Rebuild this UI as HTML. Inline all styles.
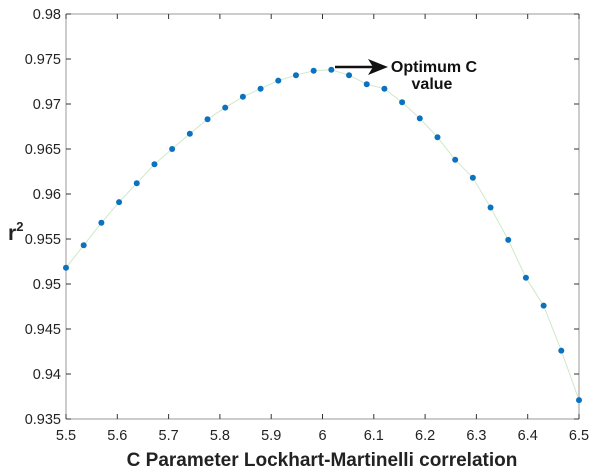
<!DOCTYPE html>
<html><head><style>body{margin:0;background:#fff}svg{display:block}</style></head>
<body>
<svg id="s" width="600" height="474" xmlns="http://www.w3.org/2000/svg" font-family="Liberation Sans, sans-serif">
<rect x="0" y="0" width="600" height="474" fill="#fff"/>
<g id="ax" stroke="#999" stroke-width="1" fill="none"></g>
<path id="ln" fill="none" stroke="#cfe8c8" stroke-width="1"/>
<g id="pts" fill="#0a72bf"></g>
<line x1="335" y1="67" x2="376" y2="67" stroke="#111" stroke-width="2.5"/>
<polygon points="388,67 368,59 373,67 368,75" fill="#111"/>
<text x="434" y="72" font-size="16" font-weight="bold" text-anchor="middle" fill="#111">Optimum C</text>
<text x="432" y="89" font-size="16" font-weight="bold" text-anchor="middle" fill="#111">value</text>
<text x="8" y="240" font-size="21" font-weight="bold" fill="#222">r<tspan font-size="13" dy="-9">2</tspan></text>
<text x="322" y="466" font-size="19" font-weight="bold" text-anchor="middle" fill="#222">C Parameter Lockhart-Martinelli correlation</text>
<g font-size="14.5" fill="#222" text-anchor="end">
<text x="61" y="19">0.98</text><text x="61" y="64">0.975</text><text x="61" y="109">0.97</text><text x="61" y="154">0.965</text><text x="61" y="199">0.96</text><text x="61" y="244">0.955</text><text x="61" y="289">0.95</text><text x="61" y="334">0.945</text><text x="61" y="379">0.94</text><text x="61" y="424">0.935</text>
</g>
<g font-size="14.5" fill="#222" text-anchor="middle">
<text x="66" y="440">5.5</text><text x="117.3" y="440">5.6</text><text x="168.6" y="440">5.7</text><text x="219.9" y="440">5.8</text><text x="271.2" y="440">5.9</text><text x="322.5" y="440">6</text><text x="373.8" y="440">6.1</text><text x="425.1" y="440">6.2</text><text x="476.4" y="440">6.3</text><text x="527.7" y="440">6.4</text><text x="579" y="440">6.5</text>
</g>
</svg>
<script>
var ax=document.getElementById('ax'),NS='http://www.w3.org/2000/svg';
function L(a,b,c,d,col){var l=document.createElementNS(NS,'line');l.setAttribute('x1',a);l.setAttribute('y1',b);l.setAttribute('x2',c);l.setAttribute('y2',d);if(col)l.setAttribute('stroke',col);ax.appendChild(l);}
L(66,14,579,14);L(66,419,579,419);L(66,14,66,419);L(579,14,579,419);
for(var i=0;i<=10;i++){var x=66+i*51.3;L(x,419,x,414,'#333');L(x,14,x,19,'#333');}
for(var j=0;j<=9;j++){var y=14+j*45;L(66,y,71,y,'#333');L(579,y,574,y,'#333');}
var v=[0.9518,0.9543,0.9568,0.9591,0.9612,0.9633,0.965,0.9667,0.9683,0.9696,0.9708,0.9717,0.9726,0.9732,0.9737,0.9738,0.9732,0.9722,0.9717,0.9702,0.9684,0.9663,0.9638,0.9618,0.9585,0.9549,0.9507,0.9476,0.9426,0.9371];
var d='',g=document.getElementById('pts');
v.forEach(function(val,i){var x=66+i*513/29,y=14+(0.98-val)*9000;d+=(i?'L':'M')+x.toFixed(1)+','+y.toFixed(1);
var c=document.createElementNS(NS,'circle');c.setAttribute('cx',x);c.setAttribute('cy',y);c.setAttribute('r',3);g.appendChild(c);});
document.getElementById('ln').setAttribute('d',d);
</script>
</body></html>
